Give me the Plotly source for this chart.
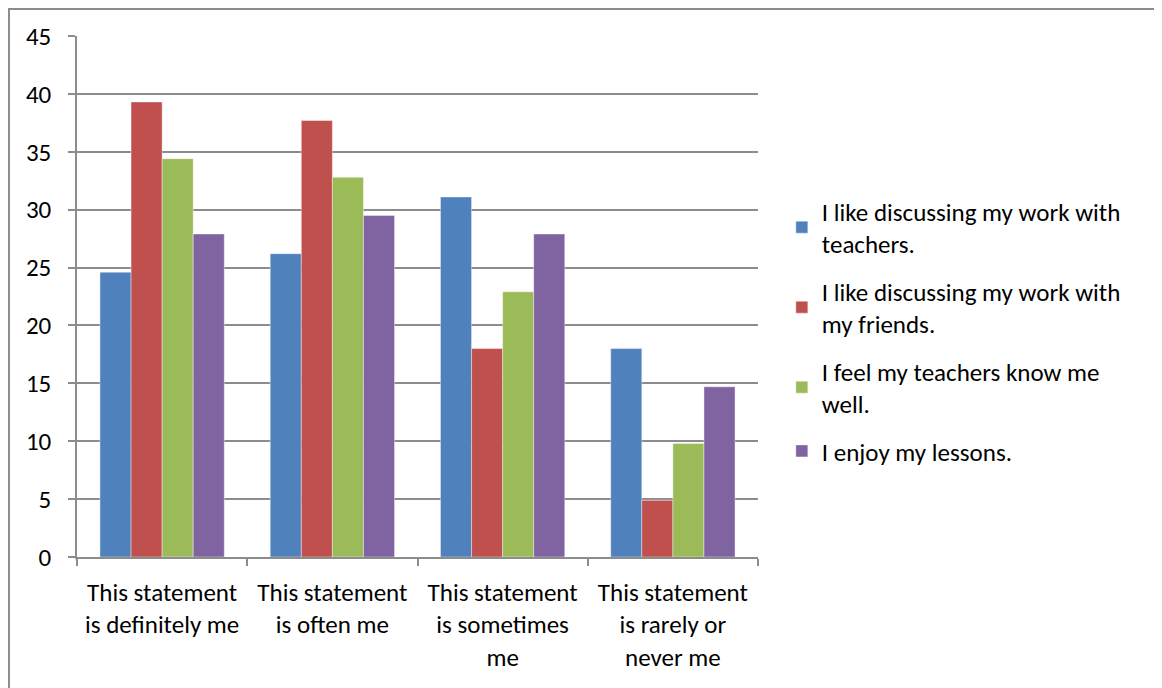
import plotly.graph_objects as go

categories = [
    "This statement<br>is definitely me",
    "This statement<br>is often me",
    "This statement<br>is sometimes<br>me",
    "This statement<br>is rarely or<br>never me",
]
series_names = [
    "I like discussing my work with<br>teachers.",
    "I like discussing my work with<br>my friends.",
    "I feel my teachers know me<br>well.",
    "I enjoy my lessons.",
]
teachers_discuss = [24.6, 26.2, 31.1, 18.0]
friends_discuss = [39.3, 37.7, 18.0, 4.9]
teachers_know = [34.4, 32.8, 22.9, 9.8]
enjoy_lessons = [27.9, 29.5, 27.9, 14.7]
y_ticks = [0, 5, 10, 15, 20, 25, 30, 35, 40, 45]

colors = ["#4F81BD", "#C0504D", "#9BBB59", "#8064A2"]
all_values = [teachers_discuss, friends_discuss, teachers_know, enjoy_lessons]

FONT = "Carlito, Lato, sans-serif"
FS = 25

fig = go.Figure()
for i, (name, vals) in enumerate(zip(series_names, all_values)):
    fig.add_trace(go.Bar(
        x=categories, y=vals, name=name,
        legendgroup=f"g{i}",
        marker=dict(color=colors[i], line=dict(color="rgba(255,255,255,0.5)", width=0.8)),
    ))

fig.update_layout(
    width=1162, height=688,
    margin=dict(l=69, r=412, t=28, b=139),
    paper_bgcolor="white", plot_bgcolor="white",
    barmode="group", bargap=0.27, bargroupgap=0,
    font=dict(family=FONT, size=FS, color="black"),
    legend=dict(
        x=1.035, y=0.708, xanchor="left", yanchor="top",
        font=dict(family=FONT, size=FS, color="black"),
        tracegroupgap=12, itemwidth=30, bgcolor="rgba(0,0,0,0)",
    ),
    showlegend=True,
)
fig.update_yaxes(
    range=[0, 45], tickvals=y_ticks, showgrid=True, gridcolor="#8c8c8c", gridwidth=1.5,
    showline=True, linecolor="#8c8c8c", linewidth=1.5,
    ticks="outside", ticklen=7, tickcolor="#8c8c8c", tickwidth=1.5,
    ticklabelstandoff=12, zeroline=False,
    tickfont=dict(family=FONT, size=FS, color="black"),
)
fig.update_xaxes(
    showline=True, linecolor="#8c8c8c", linewidth=1.5,
    ticks="outside", ticklen=7, tickcolor="#8c8c8c", tickwidth=1.5,
    tickson="boundaries", ticklabelstandoff=12,
    tickfont=dict(family=FONT, size=FS, color="black"),
)
fig.add_shape(
    type="rect", xref="paper", yref="paper",
    x0=-0.0999, x1=1.7, y0=-0.4, y1=1.0518,
    line=dict(color="#8c8c8c", width=2), fillcolor="rgba(0,0,0,0)", layer="below",
)

fig.write_html("out.html")
